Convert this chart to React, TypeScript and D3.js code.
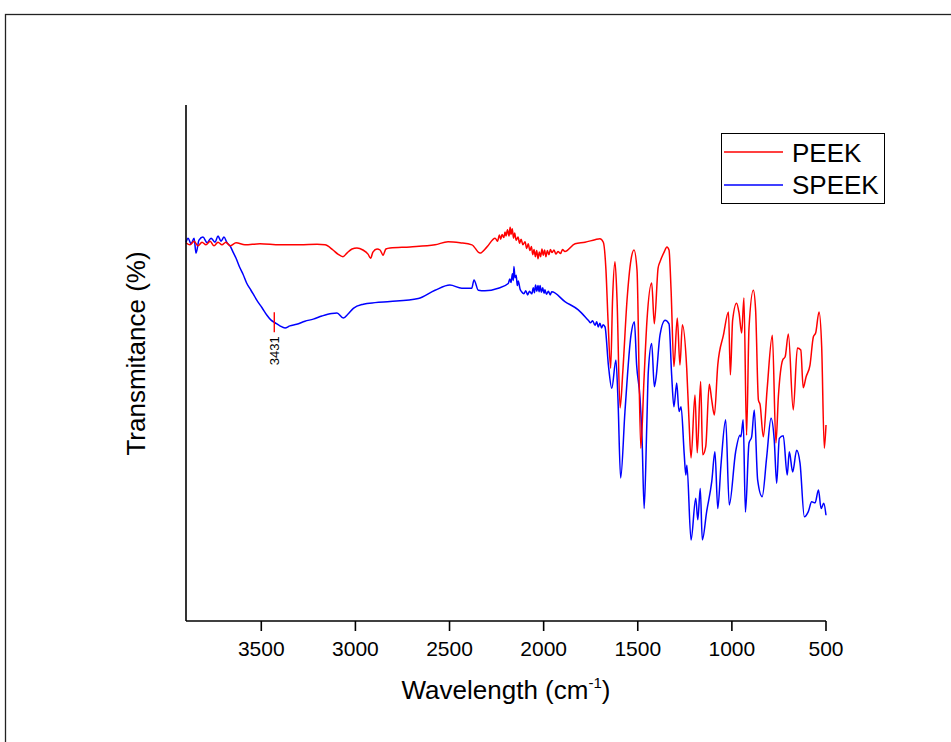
import React from 'react';
import * as d3 from 'd3';

const xDomain: [number, number] = [3900, 500];
const yDomain: [number, number] = [0, 100];
const xTickValues = [3500, 3000, 2500, 2000, 1500, 1000, 500];
const seriesNames = ['PEEK', 'SPEEK'];
const seriesColors = ['#ff0000', '#0000ff'];
const peakLabel = 3431;

const peekData: [number, number][] = [
  [3900, 73.3], [3879, 72.9], [3857, 73.6], [3836, 72.7], [3815, 73.4], [3794, 72.9],
  [3772, 73.6], [3751, 72.7], [3730, 73.4], [3709, 72.9], [3688, 73.4], [3666, 72.7],
  [3634, 73.3], [3587, 72.9], [3507, 73.1], [3401, 72.9], [3294, 72.9], [3204, 73.0],
  [3162, 72.9], [3119, 71.9], [3093, 71.1], [3066, 70.6], [3045, 71.3], [3018, 72.1],
  [2992, 72.3], [2960, 71.9], [2933, 71.1], [2919, 70.3], [2907, 71.5], [2885, 72.1],
  [2869, 71.9], [2853, 70.9], [2838, 72.1], [2816, 72.3], [2710, 72.5], [2577, 72.9],
  [2508, 73.5], [2444, 73.3], [2381, 72.9], [2338, 71.3], [2301, 72.5], [2258, 74.2],
  [2245, 73.6], [2235, 74.8], [2228, 74.0], [2221, 74.9], [2212, 74.3], [2205, 75.4],
  [2200, 74.6], [2192, 75.8], [2184, 74.6], [2178, 76.3], [2173, 74.9], [2167, 76.0],
  [2160, 74.2], [2154, 75.2], [2146, 73.8], [2136, 74.4], [2128, 73.2], [2120, 74.0],
  [2110, 72.9], [2099, 73.5], [2090, 72.2], [2082, 73.1], [2073, 71.8], [2065, 72.6],
  [2058, 71.0], [2051, 72.0], [2044, 70.6], [2037, 71.8], [2030, 70.2], [2023, 71.5],
  [2016, 70.6], [2009, 72.1], [2002, 70.9], [1995, 71.9], [1988, 70.6], [1980, 71.8],
  [1972, 71.0], [1964, 72.0], [1956, 71.4], [1945, 71.9], [1935, 71.1], [1924, 71.6],
  [1910, 71.2], [1900, 72.0], [1887, 71.6], [1833, 73.1], [1780, 73.4], [1727, 73.9],
  [1701, 74.1], [1683, 73.4], [1669, 68.0], [1658, 58.3], [1644, 49.0], [1634, 62.2],
  [1621, 69.6], [1610, 62.2], [1594, 41.3], [1579, 48.6], [1557, 62.2], [1536, 70.0],
  [1520, 71.9], [1504, 68.0], [1484, 33.5], [1467, 46.7], [1451, 58.3], [1426, 65.5],
  [1412, 57.6], [1392, 68.4], [1382, 69.6], [1360, 71.5], [1345, 72.5], [1334, 71.9],
  [1323, 64.1], [1308, 49.3], [1290, 58.7], [1276, 49.6], [1263, 57.4], [1240, 49.0],
  [1228, 39.0], [1217, 31.6], [1196, 43.8], [1184, 32.6], [1166, 46.4], [1155, 32.2],
  [1139, 33.8], [1120, 45.9], [1107, 42.8], [1093, 39.9], [1075, 49.6], [1045, 55.4],
  [1018, 59.9], [1008, 47.7], [996, 58.3], [975, 61.6], [962, 59.7], [948, 55.8],
  [936, 62.6], [922, 36.0], [909, 56.8], [886, 64.1], [874, 60.3], [859, 42.8],
  [850, 41.9], [833, 35.7], [813, 44.8], [785, 55.4], [766, 34.5], [753, 43.5],
  [730, 50.6], [717, 51.2], [700, 55.6], [674, 40.9], [652, 52.9], [634, 52.5],
  [621, 45.2], [606, 47.3], [585, 49.6], [567, 55.1], [555, 55.8], [537, 59.9],
  [523, 53.2], [509, 33.5], [500, 38.0],
];

const speekData: [number, number][] = [
  [3900, 73.4], [3889, 74.2], [3873, 73.1], [3857, 74.2], [3847, 71.3], [3831, 73.8],
  [3810, 74.4], [3788, 73.3], [3767, 74.2], [3746, 73.4], [3730, 74.6], [3714, 73.6],
  [3698, 74.4], [3682, 73.3], [3666, 72.7], [3650, 71.5], [3634, 70.3], [3613, 68.4],
  [3597, 67.2], [3578, 65.5], [3555, 64.1], [3524, 62.2], [3496, 60.7], [3471, 59.3],
  [3448, 58.3], [3427, 57.8], [3401, 57.2], [3374, 56.8], [3348, 57.2], [3312, 57.5],
  [3268, 58.1], [3224, 58.5], [3178, 59.1], [3126, 59.6], [3098, 59.7], [3064, 58.7],
  [3039, 59.5], [3011, 60.6], [2958, 61.4], [2896, 61.7], [2816, 61.9], [2666, 62.5],
  [2577, 64.1], [2498, 65.1], [2435, 64.5], [2382, 64.5], [2370, 66.1], [2347, 64.1],
  [2312, 64.0], [2241, 64.5], [2188, 65.4], [2180, 66.3], [2173, 65.6], [2166, 67.3],
  [2161, 66.0], [2158, 68.7], [2152, 66.5], [2146, 67.0], [2140, 65.0], [2135, 65.9],
  [2125, 64.3], [2117, 63.8], [2105, 63.4], [2095, 64.0], [2085, 63.2], [2075, 63.9],
  [2063, 63.4], [2055, 64.6], [2049, 63.6], [2043, 65.1], [2036, 63.9], [2030, 65.0],
  [2024, 63.8], [2019, 65.0], [2012, 63.7], [2005, 64.6], [1998, 63.5], [1993, 64.2],
  [1985, 63.3], [1975, 63.9], [1965, 63.2], [1957, 63.8], [1887, 61.9], [1816, 60.3],
  [1763, 58.3], [1750, 57.8], [1740, 58.2], [1727, 57.3], [1718, 58.0], [1710, 57.0],
  [1701, 57.7], [1692, 56.8], [1684, 57.4], [1674, 57.0],
  [1656, 49.6], [1638, 45.1], [1616, 50.6], [1605, 42.8], [1591, 27.7], [1568, 40.6],
  [1536, 55.4], [1518, 58.0], [1506, 49.6], [1488, 43.2], [1477, 35.1], [1466, 21.8],
  [1452, 38.0], [1444, 48.3], [1426, 53.8], [1412, 45.4], [1403, 47.1], [1382, 55.4],
  [1355, 58.3], [1334, 57.6], [1320, 47.7], [1308, 41.5], [1293, 46.1], [1281, 40.6],
  [1270, 41.5], [1253, 32.2], [1245, 28.3], [1239, 30.2], [1217, 15.7], [1192, 23.8],
  [1181, 19.6], [1168, 25.7], [1157, 15.7], [1134, 21.2], [1107, 27.0], [1090, 32.8],
  [1075, 21.8], [1058, 30.2], [1033, 39.0], [1014, 22.5], [980, 32.8], [957, 36.0],
  [952, 35.7], [940, 39.0], [928, 21.1], [909, 34.5], [895, 35.7], [881, 40.9],
  [863, 27.3], [839, 24.1], [815, 31.8], [792, 39.3], [775, 35.1], [762, 26.7],
  [748, 35.4], [727, 35.9], [706, 28.3], [695, 32.8], [677, 28.9], [656, 33.1],
  [638, 30.6], [615, 20.2], [594, 21.2], [576, 23.1], [558, 22.9], [540, 25.4],
  [526, 21.8], [512, 22.8], [500, 20.5],
];

const FONT = "'Liberation Sans', Arial, Helvetica, sans-serif";

function valueAt(data: [number, number][], w: number): number {
  for (let i = 0; i < data.length - 1; i++) {
    const [w0, v0] = data[i];
    const [w1, v1] = data[i + 1];
    if (w0 >= w && w >= w1) {
      const t = (w0 - w) / (w0 - w1 || 1);
      return v0 + (v1 - v0) * t;
    }
  }
  return data[data.length - 1][1];
}

export default function App() {
  const W = 951;
  const H = 742;
  const left = 186, right = 826, top = 105, bottom = 621;
  const x = d3.scaleLinear().domain(xDomain).range([left, right]);
  const y = d3.scaleLinear().domain(yDomain).range([bottom, top]);
  const line = d3
    .line<[number, number]>()
    .x((d) => x(d[0]))
    .y((d) => y(d[1]))
    .curve(d3.curveMonotoneX);

  const series = [peekData, speekData];
  const drawOrder = [1, 0];

  const px = x(peakLabel);
  const py = y(valueAt(speekData, peakLabel));

  return (
    <svg
      width={W}
      height={H}
      style={{ position: 'absolute', left: 0, top: 0, background: '#fff' }}
      fontFamily={FONT}
    >
      <rect x={0} y={0} width={W} height={H} fill="#fff" />
      <rect x={5.5} y={14.5} width={2000} height={2000} fill="none" stroke="#222" strokeWidth={1.3} />

      {drawOrder.map((i) => (
        <path
          key={seriesNames[i]}
          d={line(series[i]) || ''}
          fill="none"
          stroke={seriesColors[i]}
          strokeWidth={1.5}
          strokeLinejoin="round"
        />
      ))}

      {/* peak marker */}
      <line x1={px} x2={px} y1={py - 10} y2={py + 10} stroke="#ff0000" strokeWidth={1.4} />
      <text
        transform={`translate(${px + 5},${py + 14}) rotate(-90)`}
        textAnchor="end"
        fontSize={13}
        fill="#000"
      >
        {peakLabel}
      </text>

      {/* axes */}
      <line x1={left} x2={left} y1={top} y2={bottom} stroke="#000" strokeWidth={1.6} />
      <line x1={left} x2={right} y1={bottom} y2={bottom} stroke="#000" strokeWidth={1.6} />
      {xTickValues.map((t) => (
        <g key={t}>
          <line x1={x(t)} x2={x(t)} y1={bottom} y2={bottom + 10} stroke="#000" strokeWidth={1.6} />
          <text x={x(t)} y={bottom + 35} textAnchor="middle" fontSize={21} fill="#000">
            {t}
          </text>
        </g>
      ))}

      {/* axis titles */}
      <text x={(left + right) / 2} y={699} textAnchor="middle" fontSize={26} fill="#000">
        Wavelength (cm
        <tspan fontSize={15} dy={-11}>-1</tspan>
        <tspan dy={11}>)</tspan>
      </text>
      <text
        transform={`translate(145,353.5) rotate(-90)`}
        textAnchor="middle"
        fontSize={26}
        fill="#000"
      >
        Transmitance (%)
      </text>

      {/* legend */}
      <rect x={721.5} y={133.5} width={163} height={70} fill="#fff" stroke="#000" strokeWidth={1} />
      {seriesNames.map((name, i) => (
        <g key={name}>
          <line
            x1={724}
            x2={783}
            y1={152 + i * 33}
            y2={152 + i * 33}
            stroke={seriesColors[i]}
            strokeWidth={1.5}
          />
          <text x={792} y={161.5 + i * 32} fontSize={26} fill="#000">
            {name}
          </text>
        </g>
      ))}
    </svg>
  );
}
